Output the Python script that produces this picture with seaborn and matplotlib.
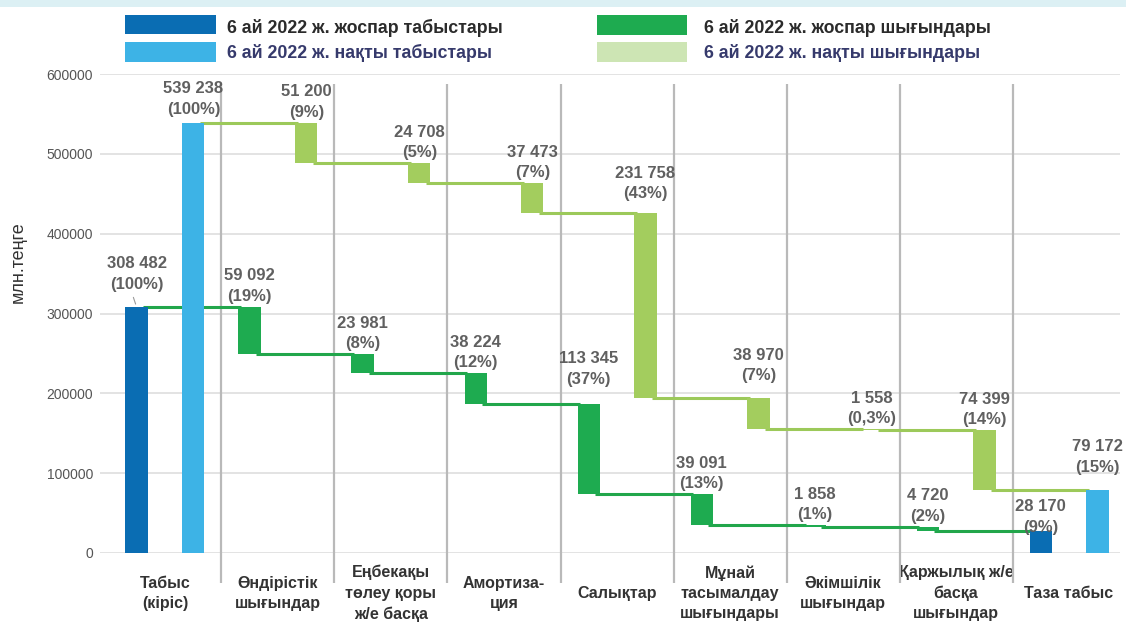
import numpy as np
import matplotlib
matplotlib.use("Agg")
import matplotlib.pyplot as plt
from matplotlib.patches import Rectangle
import seaborn as sns

# categories and values (млн теңге)
categories = ["Табыс\n(кіріс)", "Өндірістік\nшығындар", "Еңбекақы\nтөлеу қоры\nж/е басқа",
              "Амортиза-\nция", "Салықтар", "Мұнай\nтасымалдау\nшығындары",
              "Әкімшілік\nшығындар", "Қаржылық ж/е\nбасқа\nшығындар", "Таза табыс"]
plan_income = 308482
fact_income = 539238
plan_costs = [59092, 23981, 38224, 113345, 39091, 1858, 4720]
fact_costs = [51200, 24708, 37473, 231758, 38970, 1558, 74399]
plan_net = 28170
fact_net = 79172
plan_pct = ["100%", "19%", "8%", "12%", "37%", "13%", "1%", "2%", "9%"]
fact_pct = ["100%", "9%", "5%", "7%", "43%", "7%", "0,3%", "14%", "15%"]

legend_labels = ["6 ай 2022 ж. жоспар табыстары", "6 ай 2022 ж. нақты табыстары",
                 "6 ай 2022 ж. жоспар шығындары", "6 ай 2022 ж. нақты шығындары"]

C_PLAN_INC = "#0a6db3"
C_FACT_INC = "#3db3e6"
C_PLAN_EXP = "#1eab50"
C_FACT_EXP = "#a3cd5e"
C_PLAN_LINE = "#22a64b"
C_FACT_LINE = "#9cc95a"

sns.set_theme(style="whitegrid")
plt.rcParams["font.family"] = ["Liberation Sans", "DejaVu Sans"]

W, H = 1126, 627


def fx(px):
    return px / W


def fy(py):
    return 1 - py / H


def waterfall(income, costs, net):
    levels = income - np.cumsum([0] + costs)
    tops = [income] + list(levels[:-1]) + [net]
    bottoms = [0] + list(levels[1:]) + [0]
    return np.array(tops), np.array(bottoms), levels


plan_top, plan_bot, plan_lvl = waterfall(plan_income, plan_costs, plan_net)
fact_top, fact_bot, fact_lvl = waterfall(fact_income, fact_costs, fact_net)

fig = plt.figure(figsize=(W / 100, H / 100), dpi=100)
ax = fig.add_axes([fx(100), fy(553), fx(1120) - fx(100), fy(74) - fy(553)])

x = np.arange(len(categories))
bw = 0.195
dx = 0.252
n = len(categories)

plan_colors = [C_PLAN_INC] + [C_PLAN_EXP] * (n - 2) + [C_PLAN_INC]
fact_colors = [C_FACT_INC] + [C_FACT_EXP] * (n - 2) + [C_FACT_INC]

ax.bar(x - dx, plan_top - plan_bot, bottom=plan_bot, width=bw, color=plan_colors, zorder=4, linewidth=0)
ax.bar(x + dx, fact_top - fact_bot, bottom=fact_bot, width=bw, color=fact_colors, zorder=4, linewidth=0)

# connectors
for i in range(n - 1):
    ax.hlines(plan_lvl[i], x[i] - dx + bw / 2 - 0.04, x[i + 1] - dx - bw / 2 + 0.02,
              color=C_PLAN_LINE, lw=2.2, zorder=3)
    ax.hlines(fact_lvl[i], x[i] + dx + bw / 2 - 0.04, x[i + 1] + dx - bw / 2 + 0.02,
              color=C_FACT_LINE, lw=2.2, zorder=3)

# separators
ax.vlines(x[:-1] + 0.5, -37500, 587000, color="#b9b9b9", lw=1.6, clip_on=False, zorder=2)


def fmt(v, p):
    return f"{v:,}".replace(",", " ") + f"\n({p})"


plan_extra = {0: 12, 4: 14, 8: -7}
fact_extra = {0: 3, 4: 9, 5: 12, 8: 12}
label_kw = dict(ha="center", va="bottom", fontsize=12, fontweight="bold", color="#606060",
                zorder=6, linespacing=1.45, textcoords="offset pixels")
for i in range(n):
    ax.annotate(fmt(int(plan_top[i] - plan_bot[i]), plan_pct[i]), (x[i] - dx, plan_top[i]),
                xytext=(0, 3 + plan_extra.get(i, 0)), **label_kw)
    ax.annotate(fmt(int(fact_top[i] - fact_bot[i]), fact_pct[i]), (x[i] + dx, fact_top[i]),
                xytext=(0, 3 + fact_extra.get(i, 0)), **label_kw)
# small leader for the plan income label
ax.annotate("", xy=(x[0] - dx, plan_top[0]), xytext=(-4, 12), textcoords="offset pixels",
            arrowprops=dict(arrowstyle="-", color="#9a9a9a", lw=0.8))

ax.set_xlim(-0.575, 8.451)
ax.set_ylim(0, 600000)
ax.set_yticks(np.arange(0, 600001, 100000))
ax.set_yticklabels([str(v) for v in range(0, 600001, 100000)])
ax.set_xticks(x)
ax.set_xticklabels(categories, fontsize=11.5, fontweight="bold", color="#333333", linespacing=1.45)
for lab in ax.get_xticklabels():
    lab.set_verticalalignment("center")
ax.tick_params(axis="x", length=0, pad=29)
ax.tick_params(axis="y", length=0, pad=5, labelsize=10, labelcolor="#555555")
ax.grid(axis="x", visible=False)
ax.grid(axis="y", color="#dedede", lw=1.2)
ax.set_axisbelow(True)
for s in ax.spines.values():
    s.set_visible(False)

fig.text(fx(18), fy(262), "млн.теңге", rotation=90, ha="center", va="center",
         fontsize=13, color="#333333")

# top strip
fig.add_artist(Rectangle((0, fy(7)), 1, 1 - fy(7), transform=fig.transFigure,
                         color="#dcf0f4", lw=0, zorder=0))

# legend
legend_items = [
    (125, 216, 15, 34, C_PLAN_INC, 227, 28, legend_labels[0], "#2b2b2b"),
    (125, 216, 42, 62, C_FACT_INC, 227, 53, legend_labels[1], "#363a6c"),
    (597, 687, 15, 35, C_PLAN_EXP, 704, 28, legend_labels[2], "#2b2b2b"),
    (597, 687, 42, 62, "#cde5b4", 704, 53, legend_labels[3], "#363a6c"),
]
for x0, x1, y0, y1, col, tx, ty, label, tcol in legend_items:
    fig.add_artist(Rectangle((fx(x0), fy(y1)), fx(x1) - fx(x0), fy(y0) - fy(y1),
                             transform=fig.transFigure, color=col, lw=0))
    fig.text(fx(tx), fy(ty), label, ha="left", va="center",
             fontsize=12.8, fontweight="bold", color=tcol)

fig.savefig("out.png", dpi=100, facecolor="white")
